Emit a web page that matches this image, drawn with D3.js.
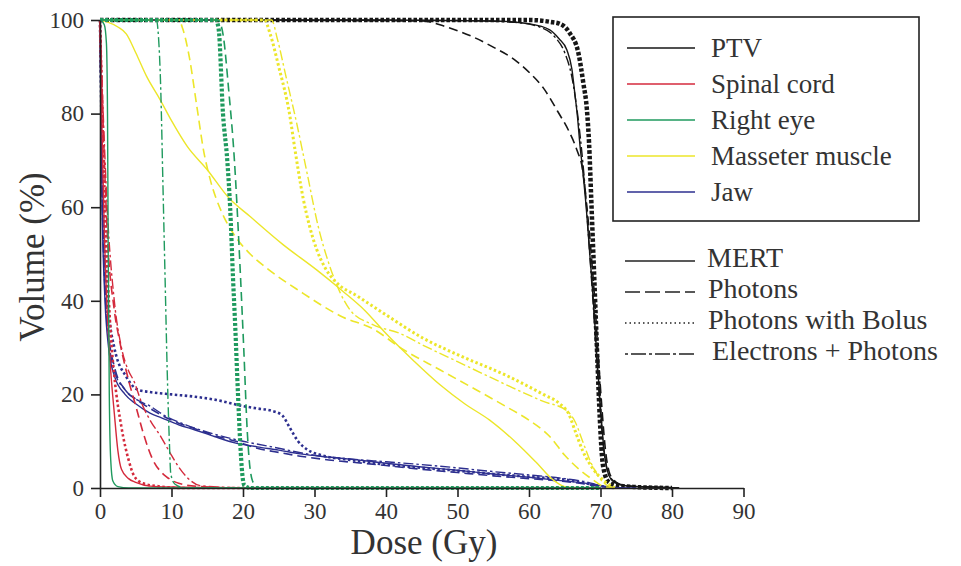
<!DOCTYPE html>
<html>
<head>
<meta charset="utf-8">
<script src="https://cdn.jsdelivr.net/npm/d3@7"></script>
<style>
html,body{margin:0;padding:0;background:#fff;}
svg{display:block;}
text{font-family:"Liberation Serif","Times New Roman",serif;fill:#333;}
</style>
</head>
<body>
<svg id="chart" width="961" height="566"></svg>
<script>
// ---------- DATA ----------
const structures = ["PTV", "Spinal cord", "Right eye", "Masseter muscle", "Jaw"];
const structureColors = ["#161616", "#d42a3c", "#1f9a5e", "#ece62a", "#2d2f8f"];
const techniques = ["MERT", "Photons", "Photons with Bolus", "Electrons + Photons"];
const xTicks = [0, 10, 20, 30, 40, 50, 60, 70, 80, 90];
const yTicks = [0, 20, 40, 60, 80, 100];

// [dose (Gy), volume (%)]
const ptvMERT = [[0,100],[40,100],[55,99.8],[60,99.2],[62.9,97.9],[64.2,96],[65.3,93.6],[66,89.5],[66.4,84.4],[66.8,79],[67.1,73.7],[67.5,68],[68,60],[68.5,50],[69,40],[69.5,28],[70,17],[70.5,8],[71,3.5],[71.5,1.8],[72.5,0.8],[74,0.4],[77,0.2],[81,0]];
const ptvPhotons = [[0,100],[45,99.8],[48.5,98.5],[52,96.5],[55,94.2],[58,91.5],[60.1,88.7],[62,85.5],[64,80.5],[65.5,76.5],[66.7,72.2],[67.5,68],[68.1,60],[68.7,50],[69.2,40],[69.7,28],[70.2,17],[70.7,8],[71.2,3.5],[71.8,1.8],[72.7,0.8],[74,0.4],[77,0.2],[81,0]];
const ptvBolus = [[0,100],[60,100],[63,99.6],[64.3,99.2],[65.7,97.2],[66.9,93],[67.6,86.5],[68.1,80.8],[68.4,73.7],[68.7,62],[69,50],[69.3,38],[69.6,26],[69.9,15],[70.2,7],[70.6,3],[71.2,1.2],[72.5,0.5],[75,0.2],[80,0]];
const ptvElectrons = [[0,100],[50,99.9],[58,99.5],[61.5,98.5],[63.6,96.4],[65,93],[66,87.8],[66.9,78.6],[67.4,71.6],[67.9,63],[68.4,52],[68.9,41],[69.4,29],[69.9,18],[70.4,9],[70.9,4],[71.5,2],[72.5,0.9],[74,0.4],[78,0.2],[81,0]];

const cordMERT = [[0,100],[0.3,75],[0.6,55],[1,38],[1.5,25],[2,16],[2.5,8],[3,4],[4,2],[5,1.2],[7,0.4],[10,0.2],[20,0],[70,0]];
const cordPhotons = [[0,100],[0.5,75],[1,55],[2,38],[2.8,31],[4,23],[5.1,17],[6,12],[7.4,6],[8.5,3.5],[9.3,2.4],[11,1],[14,0.3],[20,0],[70,0]];
const cordBolus = [[0,100],[0.5,70],[1,48],[1.5,33],[2,24],[3,13],[4,6],[4.8,2.5],[6,1],[8,0.4],[12,0],[70,0]];
const cordElectrons = [[0,100],[0.5,78],[1,60],[2,40],[3,30],[4,25],[4.7,23],[6,17.5],[7,14.5],[8.5,11],[9.8,7.5],[11,4.5],[12.1,2.4],[14,0.5],[18,0.1],[22,0],[70,0]];

const eyeMERT = [[0,100],[0.6,99],[0.9,95],[1.05,80],[1.15,50],[1.3,20],[1.5,6],[1.8,1.5],[2.5,0.3],[4,0],[70,0]];
const eyePhotons = [[0,100],[16.5,100],[17.2,97],[18,85],[18.8,70],[19.5,50],[20.1,30],[20.6,12],[21,4],[21.5,1],[22.5,0],[70,0]];
const eyeBolus = [[0,100],[16.2,100],[16.6,98],[17.2,80],[17.8,70],[18.2,60],[18.6,45],[18.9,35],[19.3,20],[19.6,10],[19.9,3],[20.2,0.5],[21,0],[70,0]];
const eyeElectrons = [[0,100],[7.9,100],[8.1,98],[8.5,85],[8.8,65],[9.1,45],[9.4,25],[9.7,10],[9.9,3],[10.5,0.8],[12,0],[70,0]];

const masseterMERT = [[0,100],[1,99.6],[2.5,98.5],[3.7,97],[5,93],[6.5,88],[8.4,83],[10,78.5],[12.2,73],[15,68],[18,62],[21,58],[25.6,52],[30.3,46.6],[34,42],[37,38],[40,33],[44,27],[47.6,22],[51,18],[54.5,14.5],[58,10],[61,5.5],[63.4,1.7],[65,0.3],[67,0]];
const masseterPhotons = [[0,100],[11,100],[11.6,98],[12.5,92],[13.5,82],[14.5,72],[15.4,66],[17,59],[18.6,54.5],[21,50],[23.3,47],[28,42],[34,36.5],[38.2,34],[42,30],[47.6,25.2],[52,21.5],[56.9,17.3],[60,14.5],[62.9,11],[65,7],[67,4],[69,1.7],[70.5,0.3],[72,0]];
const masseterBolus = [[0,100],[23,100],[23.8,97],[25,90],[26.5,80],[27.3,72],[28.4,62],[29.3,56],[30.3,51],[31.5,47],[33,44],[36,41],[40,37],[45.2,32],[50,28.5],[56.9,24],[62,20],[64.3,18],[65.5,16],[66.5,12],[67.5,8],[69,4],[70.5,1.5],[72,0]];
const masseterElectrons = [[0,100],[24,100],[24.8,96],[26,88],[27.5,78],[29,67],[30.5,56],[32,48],[33.6,41.7],[35,38],[38,35],[42,33],[45.2,30.5],[50,27],[56.9,22],[62,18.5],[65.3,16.5],[66.5,14],[67.5,10],[68.5,6],[69.5,3],[70.5,1],[72,0]];

const jawMERT = [[0,100],[0.3,60],[0.7,40],[1.2,30],[2,24],[3.5,20],[5,18],[7,16],[8.6,15],[11,13.5],[13.3,12.4],[16,11],[19,9.6],[22,8.8],[25,8.1],[28,7.3],[32,6.6],[36,6],[40,5.3],[45,4.5],[50,3.8],[55,3],[60,2.3],[65,1.5],[68,1],[70,0.5],[72,0.1],[75,0]];
const jawPhotons = [[0,100],[0.3,65],[0.7,45],[1.2,33],[2,26],[3.5,21],[5,19],[7,17],[10,14.5],[13,12.8],[16,11.2],[19,10],[22,8.5],[25.4,7.5],[28,6.8],[32,6],[36,5.4],[40,4.8],[45,4],[50,3.3],[55,2.6],[60,2],[65,1.4],[68,0.8],[70,0.3],[72,0]];
const jawBolus = [[0,100],[0.3,70],[0.7,50],[1.2,38],[2,30],[3.7,23.7],[5.3,21],[7,20.5],[10,20],[13.3,19.5],[16.3,18.8],[20,17.5],[22,17],[24,16.5],[25.5,15.5],[26.5,13],[27.7,10],[29,8.2],[31,7],[35,6],[40,5],[45,4.3],[50,3.7],[55,3],[60,2.4],[65,1.8],[68,1],[70,0.4],[72,0]];
const jawElectrons = [[0,100],[0.3,62],[0.7,42],[1.2,32],[2,25],[3.5,21],[5,19],[7,17.5],[9,15.5],[12,13.5],[16,11.5],[20,10],[25,8.5],[30,7],[35,6.2],[40,5.6],[45,5],[50,4.3],[55,3.5],[60,2.8],[65,2],[68,1.3],[70,0.5],[72,0]];

// ---------- LAYOUT ----------
const svg = d3.select("#chart");
const x = d3.scaleLinear().domain([0, 90]).range([100, 743.5]);
const y = d3.scaleLinear().domain([0, 100]).range([488, 20]);

const styles = {
  "MERT": {dash: null, w: 1.4},
  "Photons": {dash: "9,5", w: 1.6},
  "Photons with Bolus": {dash: "2.5,2.5", w: 2.6},
  "Electrons + Photons": {dash: "10,3,2.5,3", w: 1.4}
};

const curves = [
  {s: 0, t: "MERT", d: ptvMERT}, {s: 0, t: "Photons", d: ptvPhotons}, {s: 0, t: "Photons with Bolus", d: ptvBolus, w: 4.5, dash: "3.5,2"}, {s: 0, t: "Electrons + Photons", d: ptvElectrons},
  {s: 4, t: "MERT", d: jawMERT}, {s: 4, t: "Photons", d: jawPhotons}, {s: 4, t: "Photons with Bolus", d: jawBolus}, {s: 4, t: "Electrons + Photons", d: jawElectrons},
  {s: 1, t: "MERT", d: cordMERT}, {s: 1, t: "Photons", d: cordPhotons}, {s: 1, t: "Photons with Bolus", d: cordBolus}, {s: 1, t: "Electrons + Photons", d: cordElectrons},
  {s: 3, t: "MERT", d: masseterMERT}, {s: 3, t: "Photons", d: masseterPhotons}, {s: 3, t: "Photons with Bolus", d: masseterBolus, w: 3}, {s: 3, t: "Electrons + Photons", d: masseterElectrons},
  {s: 2, t: "MERT", d: eyeMERT}, {s: 2, t: "Photons", d: eyePhotons}, {s: 2, t: "Photons with Bolus", d: eyeBolus, w: 4.2, dash: "3,2"}, {s: 2, t: "Electrons + Photons", d: eyeElectrons}
];

const line = d3.line().x(d => x(d[0])).y(d => y(d[1])).curve(d3.curveMonotoneX);

svg.append("g").selectAll("path").data(curves).join("path")
  .attr("d", c => line(c.d))
  .attr("fill", "none")
  .attr("stroke", c => structureColors[c.s])
  .attr("stroke-width", c => c.w || styles[c.t].w)
  .attr("stroke-dasharray", c => c.dash || styles[c.t].dash)
  .attr("stroke-linejoin", "round");

// ---------- AXES ----------
const xAxis = svg.append("g").attr("transform", "translate(0,488)")
  .call(d3.axisBottom(x).tickValues(xTicks).tickSize(9).tickSizeOuter(0).tickPadding(6));
const yAxis = svg.append("g").attr("transform", "translate(100,0)")
  .call(d3.axisLeft(y).tickValues(yTicks).tickSize(9).tickSizeOuter(0).tickPadding(7));
[xAxis, yAxis].forEach(a => {
  a.select(".domain").attr("stroke", "#222").attr("stroke-width", 1.6);
  a.selectAll(".tick line").attr("stroke", "#222").attr("stroke-width", 1.6);
  a.selectAll(".tick text").attr("fill", "#333")
    .style("font-family", '"Liberation Serif", serif').style("font-size", "23px");
});

svg.append("text").attr("x", 424).attr("y", 554).attr("text-anchor", "middle")
  .style("font-size", "35px").text("Dose (Gy)");
svg.append("text").attr("transform", "translate(44,257) rotate(-90)").attr("text-anchor", "middle")
  .style("font-size", "35px").text("Volume (%)");

// ---------- LEGENDS ----------
svg.append("rect").attr("x", 613).attr("y", 17).attr("width", 306).attr("height", 204)
  .attr("fill", "#fff").attr("stroke", "#222").attr("stroke-width", 1.6);
const lg1 = svg.append("g").selectAll("g").data(structures).join("g")
  .attr("transform", (d, i) => `translate(0,${57 + i * 36})`);
lg1.append("line").attr("x1", 627).attr("x2", 695).attr("y1", -9).attr("y2", -9)
  .attr("stroke", (d, i) => structureColors[i]).attr("stroke-width", 1.6);
lg1.append("text").attr("x", 711).attr("y", 0).style("font-size", "27px").text(d => d);

const lg2 = svg.append("g").selectAll("g").data(techniques).join("g")
  .attr("transform", (d, i) => `translate(0,${267 + i * 31})`);
lg2.append("line").attr("x1", 625).attr("x2", 695).attr("y1", -6).attr("y2", -6)
  .attr("stroke", "#222").attr("stroke-width", 1.5)
  .attr("stroke-dasharray", d => ({"MERT": null, "Photons": "15,5", "Photons with Bolus": "1.5,3", "Electrons + Photons": "3,3,15,3"})[d]);
lg2.append("text").attr("x", (d, i) => [707, 708, 708, 712][i]).attr("y", 0)
  .style("font-size", "28px").text(d => d);
</script>
</body>
</html>
